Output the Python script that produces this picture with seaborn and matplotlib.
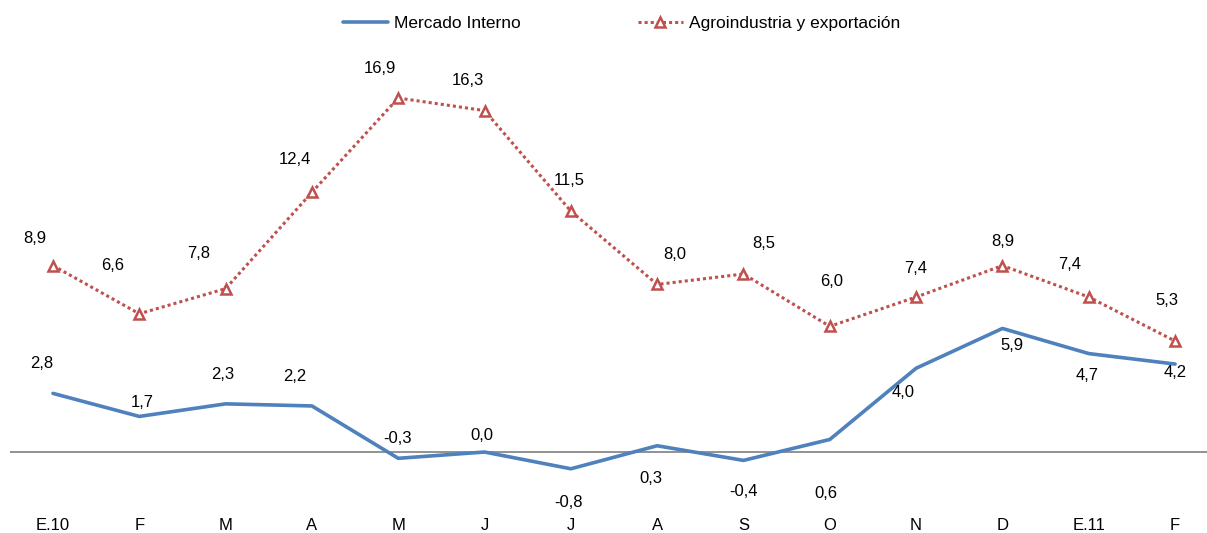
import matplotlib
matplotlib.use("Agg")
import matplotlib.pyplot as plt
import pandas as pd
import seaborn as sns

months = ["E.10", "F", "M", "A", "M", "J", "J", "A", "S", "O", "N", "D", "E.11", "F"]
mercado_interno = [2.8, 1.7, 2.3, 2.2, -0.3, 0.0, -0.8, 0.3, -0.4, 0.6, 4.0, 5.9, 4.7, 4.2]
agro_export = [8.9, 6.6, 7.8, 12.4, 16.9, 16.3, 11.5, 8.0, 8.5, 6.0, 7.4, 8.9, 7.4, 5.3]

# label offsets in pixels (dx, dy up) relative to each point, mimicking Excel placement
agro_offsets = [(-18, 27), (-27, 48), (-27, 35), (-17, 33), (-18, 30), (-17, 30),
                (-2, 31), (18, 30), (20, 30), (2, 45), (0, 29), (0, 24), (-19, 33), (-8, 41)]
mi_offsets = [(-11, 30), (3, 14), (-3, 29), (-17, 29), (-1, 20), (-3, 17),
              (-2, -34), (-6, -33), (0, -31), (-4, -54), (-13, -24), (10, -17), (-2, -22), (0, -8)]

BLUE = "#4F81BD"
RED = "#C0504D"
FS = 12

sns.set_theme(style="white")
plt.rcParams["font.family"] = ["Liberation Sans", "DejaVu Sans"]
plt.rcParams["text.color"] = "black"
plt.rcParams["xtick.color"] = "black"

df = pd.DataFrame({
    "x": list(range(len(months))) * 2,
    "valor": mercado_interno + agro_export,
    "serie": ["Mercado Interno"] * len(months) + ["Agroindustria y exportación"] * len(months),
})

fig = plt.figure(figsize=(12.07, 5.33), dpi=100)
ax = fig.add_axes([10 / 1207, 33 / 533, 1197 / 1207, 460 / 533])

sns.lineplot(data=df[df.serie == "Mercado Interno"], x="x", y="valor", ax=ax,
             color=BLUE, linewidth=2.6, label="Mercado Interno")
sns.lineplot(data=df[df.serie == "Agroindustria y exportación"], x="x", y="valor", ax=ax,
             color=RED, linewidth=2.2, linestyle=(0, (1, 1)), marker="^",
             markersize=7, markerfacecolor="white", markeredgecolor=RED,
             markeredgewidth=1.8, label="Agroindustria y exportación")

ax.axhline(0, color="#7f7f7f", linewidth=1.2, zorder=0)

for i, v in enumerate(agro_export):
    dx, dy = agro_offsets[i]
    ax.annotate(f"{v:.1f}".replace(".", ","), (i, v), xytext=(dx * 0.72, dy * 0.72),
                textcoords="offset points", ha="center", va="center", fontsize=FS)
for i, v in enumerate(mercado_interno):
    dx, dy = mi_offsets[i]
    ax.annotate(f"{v:.1f}".replace(".", ","), (i, v), xytext=(dx * 0.72, dy * 0.72),
                textcoords="offset points", ha="center", va="center", fontsize=FS)

ax.set_xlim(-0.498, 13.37)
ax.set_ylim(-2.29, 19.67)
ax.set_xticks(range(len(months)))
ax.set_xticklabels(months, fontsize=FS)
ax.tick_params(axis="x", length=0, pad=13)
ax.set_yticks([])
ax.set_xlabel("")
ax.set_ylabel("")
for s in ax.spines.values():
    s.set_visible(False)

handles, labels = ax.get_legend_handles_labels()
ax.get_legend().remove()
fig.legend(handles, labels, loc="upper center", bbox_to_anchor=(0.515, 1.0), ncol=2,
           frameon=False, fontsize=12.5, handlelength=2.6, handletextpad=0.35,
           columnspacing=6.7)

fig.savefig("out.png", dpi=100)
